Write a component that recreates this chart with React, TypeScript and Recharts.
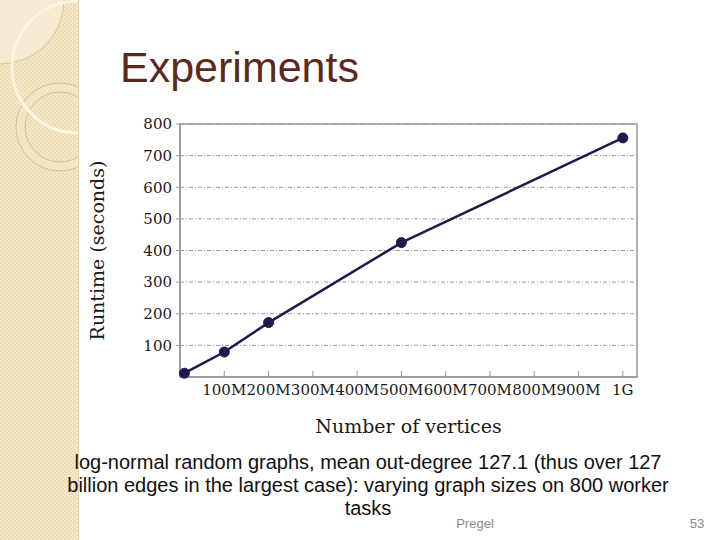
import React from 'react';
import { LineChart, Line, XAxis, YAxis, CartesianGrid, ReferenceArea, Label } from 'recharts';

const vertices = [10, 100, 200, 500, 1000];
const runtimes = [12, 79, 172, 425, 756];
const xTicks = [100, 200, 300, 400, 500, 600, 700, 800, 900, 1000];
const xTickLabels = ['100M', '200M', '300M', '400M', '500M', '600M', '700M', '800M', '900M', '1G'];
const yTicks = [100, 200, 300, 400, 500, 600, 700, 800];
const captionLines = [
  'log-normal random graphs, mean out-degree 127.1 (thus over 127',
  'billion edges in the largest case): varying graph sizes on 800 worker',
  'tasks',
];

const data = vertices.map((v, i) => ({ v, t: runtimes[i] }));
const serif = '"DejaVu Serif", "Liberation Serif", serif';
const sans = '"Liberation Sans", Arial, sans-serif';

function Decoration() {
  return (
    <svg width={720} height={540} style={{ position: 'absolute', left: 0, top: 0 }}>
      <defs>
        <pattern id="chk" width={4} height={4} patternUnits="userSpaceOnUse">
          <rect width={4} height={4} fill="#efdcb3" />
          <rect width={2} height={2} fill="#f5e8ca" />
          <rect x={2} y={2} width={2} height={2} fill="#f5e8ca" />
        </pattern>
        <clipPath id="strip">
          <rect x={0} y={0} width={78} height={540} />
        </clipPath>
      </defs>
      <rect x={0} y={0} width={720} height={540} fill="#ffffff" />
      <rect x={0} y={0} width={78} height={540} fill="url(#chk)" />
      <g clipPath="url(#strip)">
        <circle cx={0} cy={0} r={64} fill="#f6ecd6" fillOpacity={0.8} stroke="#cdbb93" strokeWidth={0.8} />
        <circle cx={60} cy={127} r={44} fill="#f4e7c8" fillOpacity={0.7} stroke="#c9b68c" strokeWidth={0.8} />
        <circle cx={60} cy={127} r={35} fill="url(#chk)" stroke="#c9b68c" strokeWidth={0.8} />
        <circle cx={78} cy={67} r={66} fill="none" stroke="#fcf4df" strokeWidth={3} />
      </g>
      <line x1={78.5} y1={0} x2={78.5} y2={540} stroke="#e6d4aa" strokeWidth={1} />
      <text x={120} y={82} fontFamily={sans} fontSize={43} fill="#5b2a1c">Experiments</text>
      {captionLines.map((s, i) => (
        <text key={i} x={368} y={469 + i * 23} textAnchor="middle" fontFamily={sans} fontSize={20} fill="#111">{s}</text>
      ))}
      <text x={475} y={528} textAnchor="middle" fontFamily={sans} fontSize={13} fill="#8a8a8a">Pregel</text>
      <text x={697} y={528} textAnchor="middle" fontFamily={sans} fontSize={13} fill="#8a8a8a">53</text>
    </svg>
  );
}

export default function App() {
  return (
    <div style={{ position: 'absolute', left: 0, top: 0, width: 720, height: 540, overflow: 'hidden' }}>
      <Decoration />
      <div style={{ position: 'absolute', left: 0, top: 0 }}>
        <LineChart width={720} height={540} data={data} margin={{ top: 124, right: 83, bottom: 105, left: 90 }}>
          <CartesianGrid vertical={false} stroke="#9a9a9a" strokeDasharray="4 2 1 2" />
          <XAxis
            dataKey="v"
            type="number"
            domain={[0, 1032]}
            ticks={xTicks}
            tickFormatter={(v: number) => xTickLabels[xTicks.indexOf(v)]}
            height={58}
            tickSize={-6}
            tickMargin={13}
            axisLine={{ stroke: '#999', strokeWidth: 1.5 }}
            tickLine={{ stroke: '#999' }}
            tick={{ fontFamily: serif, fontSize: 15, fill: '#1a1a1a' }}
            interval={0}
          >
            <Label value="Number of vertices" position="insideBottom" offset={2} style={{ fontFamily: serif, fontSize: 19, fill: '#1a1a1a' }} />
          </XAxis>
          <YAxis
            type="number"
            domain={[0, 800]}
            ticks={yTicks}
            width={90}
            tickSize={4}
            tickMargin={4}
            axisLine={{ stroke: '#999', strokeWidth: 1.5 }}
            tickLine={{ stroke: '#999' }}
            tick={{ fontFamily: serif, fontSize: 15, fill: '#1a1a1a' }}
            interval={0}
          >
            <Label value="Runtime (seconds)" angle={-90} position="insideLeft" offset={7} style={{ fontFamily: serif, fontSize: 19, fill: '#1a1a1a', textAnchor: 'middle' }} />
          </YAxis>
          <ReferenceArea x1={0} x2={1032} y1={0} y2={800} fill="none" stroke="#999" strokeWidth={1.5} />
          <Line
            type="linear"
            dataKey="t"
            stroke="#1b1b4d"
            strokeWidth={2.5}
            dot={{ r: 5, fill: '#1b1b4d', stroke: '#1b1b4d', strokeWidth: 1 }}
            isAnimationActive={false}
          />
        </LineChart>
      </div>
    </div>
  );
}
